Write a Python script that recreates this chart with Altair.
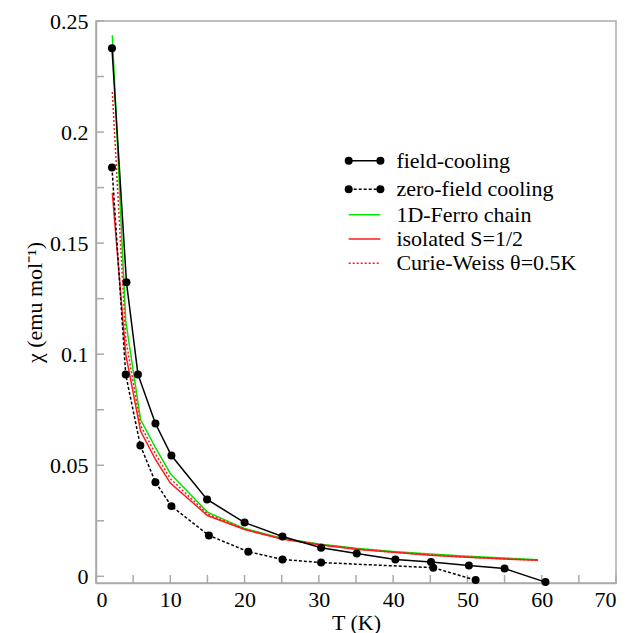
import altair as alt
import pandas as pd

# ---- data ----
fc_T = [2.15, 4.1, 5.65, 8.0, 10.15, 14.95, 20.0, 25.1, 30.3, 35.1, 40.3, 45.1, 50.2, 55.0, 60.5]
fc_chi = [0.2377, 0.1324, 0.0909, 0.0688, 0.0544, 0.0346, 0.0242, 0.0179, 0.0129, 0.0103,
          0.0076, 0.0064, 0.0049, 0.0035, -0.0026]

zfc_T = [2.15, 4.0, 5.97, 8.0, 10.15, 15.2, 20.5, 25.1, 30.3, 45.4, 51.1]
zfc_chi = [0.184, 0.0909, 0.0589, 0.0424, 0.0316, 0.0184, 0.0111, 0.0076, 0.0062, 0.0039, -0.0017]

model_T = [2.2, 4.0, 6.0, 8.0, 10.0, 15.0, 20.0, 25.0, 30.0, 35.0, 40.0, 45.0, 50.0, 55.0, 59.5]
ferro_chi = [0.2436, 0.115, 0.0706, 0.0579, 0.0463, 0.0289, 0.0215, 0.0172, 0.0146, 0.0127,
             0.0112, 0.0100, 0.0090, 0.0082, 0.0075]
iso_chi = [0.1726, 0.100, 0.0654, 0.0526, 0.0420, 0.0274, 0.0211, 0.0168, 0.0142, 0.0122,
           0.0108, 0.0095, 0.0086, 0.0078, 0.0072]
cw_chi = [0.218, 0.107, 0.0680, 0.0552, 0.0440, 0.0281, 0.0213, 0.0170, 0.0144, 0.0124,
          0.0109, 0.0097, 0.0087, 0.0079, 0.0073]

x_labels = [0, 10, 20, 30, 40, 50, 60, 70]
y_labels = [0, 0.05, 0.1, 0.15, 0.2, 0.25]
x_ticks = [0, 5, 10, 15, 20, 25, 30, 35, 40, 45, 50, 55, 60, 65, 70]
y_ticks = [0, 0.025, 0.05, 0.075, 0.1, 0.125, 0.15, 0.175, 0.2, 0.225, 0.25]

legend_labels = ["field-cooling", "zero-field cooling", "1D-Ferro chain",
                 "isolated S=1/2", "Curie-Weiss θ=0.5K"]

# ---- layout / style ----
W, H = 520, 562
FONT = "Liberation Serif"
GRAY = "#aaaaaa"
GREEN = "#00e600"
RED = "#ff1a1a"

xs = alt.Scale(domain=[0, 70], nice=False, zero=False)
ys = alt.Scale(domain=[-0.003, 0.25], nice=False, zero=False)
ax_x = alt.Axis(values=x_labels, title="T (K)", format="d", labelPadding=6, titlePadding=2,
                labelFont=FONT, titleFont=FONT)
ax_y = alt.Axis(values=y_labels, title="χ (emu mol⁻¹)", format="~r", labelPadding=8, titlePadding=3,
                labelFont=FONT, titleFont=FONT)


def X(field):
    return alt.X(field, type="quantitative", scale=xs, axis=ax_x)


def Y(field):
    return alt.Y(field, type="quantitative", scale=ys, axis=ax_y)


def curve(T, chi, color, dash=None, width=1.5):
    df = pd.DataFrame({"T": T, "chi": chi})
    kw = dict(color=color, strokeWidth=width)
    if dash:
        kw["strokeDash"] = dash
    return alt.Chart(df).mark_line(**kw).encode(x=X("T"), y=Y("chi"), order="T:Q")


def dots(T, chi):
    df = pd.DataFrame({"T": T, "chi": chi})
    return alt.Chart(df).mark_circle(size=64, color="black", opacity=1).encode(x=X("T"), y=Y("chi"))


layers = []

# inward tick marks
xt = pd.DataFrame({"T": x_ticks})
layers.append(alt.Chart(xt).mark_rule(color=GRAY, strokeWidth=1.5).encode(
    x=X("T"), y=alt.value(H), y2=alt.value(H - 8)))
yt = pd.DataFrame({"chi": y_ticks})
layers.append(alt.Chart(yt).mark_rule(color=GRAY, strokeWidth=1.5).encode(
    y=Y("chi"), x=alt.value(0), x2=alt.value(8)))

# model curves
layers.append(curve(model_T, ferro_chi, GREEN))
layers.append(curve(model_T, iso_chi, RED))
layers.append(curve(model_T, cw_chi, RED, dash=[2, 2]))

# measurements
layers.append(curve(fc_T, fc_chi, "black"))
layers.append(curve(zfc_T, zfc_chi, "black", dash=[3, 2]))
layers.append(dots(fc_T, fc_chi))
layers.append(dots(zfc_T, zfc_chi))

# legend (layout positions in plot pixels)
leg_y = [139.7, 168.3, 193.7, 218.0, 242.3]
leg_x0, leg_x1, leg_tx = 252.7, 284.4, 300.4
leg_style = [("black", None, True), ("black", [3, 2], True), (GREEN, None, False),
             (RED, None, False), (RED, [2, 2], False)]
for lab, yy, (col, dash, has_dots) in zip(legend_labels, leg_y, leg_style):
    one = pd.DataFrame({"label": [lab]})
    kw = dict(color=col, strokeWidth=1.5)
    if dash:
        kw["strokeDash"] = dash
    layers.append(alt.Chart(one).mark_rule(**kw).encode(
        x=alt.value(leg_x0), x2=alt.value(leg_x1), y=alt.value(yy)))
    if has_dots:
        dd = pd.DataFrame({"px": [leg_x0, leg_x1], "py": [yy, yy]})
        layers.append(alt.Chart(dd).mark_circle(size=64, color="black", opacity=1).encode(
            x=alt.X("px:Q", scale=None), y=alt.Y("py:Q", scale=None)))
    layers.append(alt.Chart(one).mark_text(align="left", baseline="middle", font=FONT,
                                           fontSize=22, color="black").encode(
        x=alt.value(leg_tx), y=alt.value(yy), text="label:N"))

chart = alt.layer(*layers).properties(
    width=W, height=H,
    autosize=alt.AutoSizeParams(type="none"),
    padding={"left": 88, "top": 13, "right": 6, "bottom": 50},
).configure(font=FONT).configure_view(stroke=GRAY, strokeWidth=1.5).configure_axis(
    labelFontSize=22, labelColor="black",
    titleFontSize=22, titleFontWeight="normal", titleColor="black",
    domainColor=GRAY, domainWidth=1.5, ticks=False, grid=False,
)

chart.save("out.html", embed_options={"renderer": "svg", "actions": False})
